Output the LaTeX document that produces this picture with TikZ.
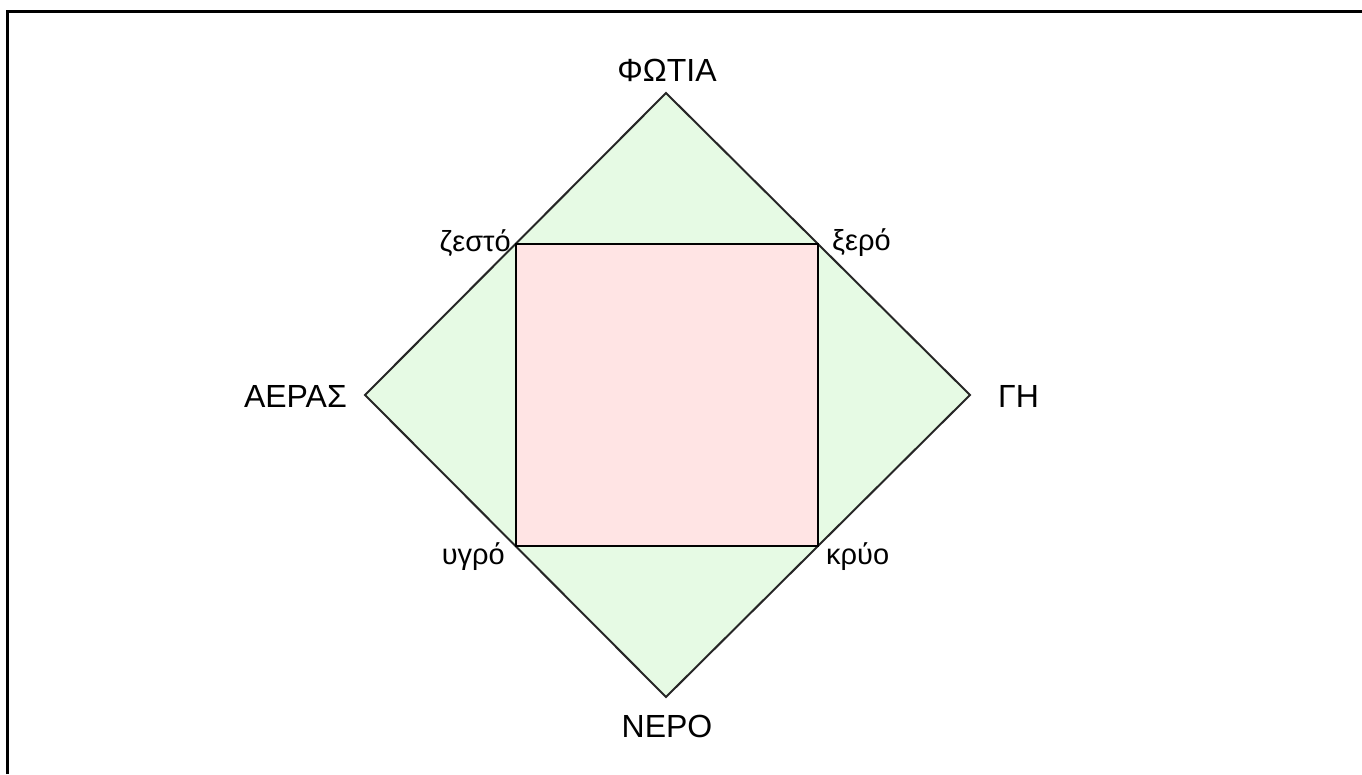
\documentclass[tikz,border=0pt]{standalone}
\usepackage{fontspec}
\setmainfont{Liberation Sans}
\definecolor{lgreen}{RGB}{230,250,228}
\definecolor{lpink}{RGB}{255,228,228}
\begin{document}
\begin{tikzpicture}[x=1pt,y=-1pt,
  lbl/.style={font=\fontsize{32}{38}\selectfont, inner sep=0pt},
  slbl/.style={font=\fontsize{29}{34}\selectfont, inner sep=0pt},
  diam/.style={draw=black!85, line width=2pt, fill=lgreen, line join=miter},
  sq/.style={draw=black, line width=2.8pt, fill=lpink},
  frame/.style={draw=black, line width=3pt}]
\useasboundingbox (0,0) rectangle (1362,774);
\coordinate (T) at (666,93);
\coordinate (R) at (970,395);
\coordinate (B) at (666,697);
\coordinate (L) at (365,395);
\coordinate (TL) at (516,244);
\coordinate (TR) at (818,244);
\coordinate (BR) at (818,546);
\coordinate (BL) at (516,546);
\draw[diam] (T) -- (R) -- (B) -- (L) -- cycle;
\draw[sq] (TL) rectangle (BR);
\draw[frame] (7.5,774) -- (7.5,11.5) -- (1362,11.5);
\node[lbl] (fotia) at (667,70) {ΦΩΤΙΑ};
\node[lbl, anchor=west] (gi) at (998,396) {ΓΗ};
\node[lbl, anchor=east] (aeras) at (347,396) {ΑΕΡΑΣ};
\node[lbl] (nero) at (667,726) {ΝΕΡΟ};
\node[slbl, anchor=east] (zesto) at (511,243) {ζεστό};
\node[slbl, anchor=west] (xero) at (832,243) {ξερό};
\node[slbl, anchor=east] (ygro) at (505,557) {υγρό};
\node[slbl, anchor=west] (kryo) at (826,557) {κρύο};
\end{tikzpicture}
\end{document}
